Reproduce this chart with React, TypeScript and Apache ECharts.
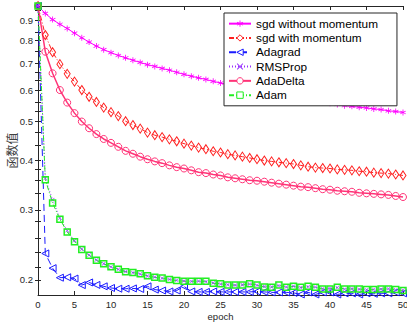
import React, { useEffect, useRef } from "react";
import * as echarts from "echarts";

const epochs: number[] = Array.from({ length: 51 }, (_, i) => i);

const sgdNoMomentum = [
  0.976, 0.935, 0.902, 0.878, 0.857, 0.834, 0.812, 0.792, 0.774, 0.758,
  0.745, 0.733, 0.723, 0.713, 0.704, 0.695, 0.688, 0.68, 0.673, 0.665,
  0.657, 0.65, 0.644, 0.638, 0.631, 0.625, 0.619, 0.613, 0.607, 0.602,
  0.597, 0.592, 0.587, 0.583, 0.578, 0.574, 0.57, 0.566, 0.562, 0.559,
  0.556, 0.552, 0.548, 0.546, 0.543, 0.541, 0.538, 0.536, 0.532, 0.53, 0.527,
];
const sgdMomentum = [
  0.976, 0.825, 0.747, 0.697, 0.659, 0.63, 0.6, 0.577, 0.56, 0.542,
  0.528, 0.516, 0.501, 0.49, 0.48, 0.469, 0.462, 0.457, 0.451, 0.446,
  0.44, 0.435, 0.43, 0.426, 0.421, 0.418, 0.414, 0.411, 0.408, 0.405,
  0.402, 0.399, 0.397, 0.395, 0.393, 0.391, 0.388, 0.385, 0.383, 0.382,
  0.381, 0.379, 0.378, 0.377, 0.375, 0.374, 0.372, 0.371, 0.37, 0.368, 0.366,
];
const adagrad = [
  0.976, 0.233, 0.214, 0.2025, 0.203, 0.2015, 0.194, 0.197, 0.1942, 0.1926,
  0.1908, 0.19, 0.19, 0.1903, 0.1897, 0.1926, 0.189, 0.188, 0.187, 0.188,
  0.1926, 0.187, 0.1865, 0.1865, 0.187, 0.1865, 0.1865, 0.1865, 0.1865, 0.1865,
  0.187, 0.1865, 0.186, 0.186, 0.186, 0.1855, 0.1838, 0.186, 0.1838, 0.186,
  0.186, 0.1838, 0.185, 0.185, 0.1838, 0.185, 0.1845, 0.185, 0.185, 0.186, 0.185,
];
const rmsProp = [
  0.976, 0.36, 0.318, 0.286, 0.266, 0.251, 0.239, 0.231, 0.2245, 0.2195,
  0.2155, 0.2125, 0.2098, 0.2085, 0.2068, 0.2045, 0.2032, 0.2018, 0.2006, 0.1995,
  0.1988, 0.1982, 0.1986, 0.1979, 0.1965, 0.1952, 0.1945, 0.1938, 0.1944, 0.1952,
  0.1938, 0.1925, 0.192, 0.1935, 0.1918, 0.1928, 0.1912, 0.1922, 0.1918, 0.19,
  0.1902, 0.1912, 0.1895, 0.19, 0.1893, 0.1888, 0.1892, 0.1895, 0.1899, 0.1888, 0.1884,
];
const adaDelta = [
  0.976, 0.749, 0.661, 0.6, 0.558, 0.525, 0.5, 0.481, 0.465, 0.452,
  0.442, 0.432, 0.422, 0.415, 0.408, 0.402, 0.397, 0.393, 0.388, 0.384,
  0.381, 0.377, 0.373, 0.371, 0.368, 0.366, 0.362, 0.36, 0.358, 0.356,
  0.355, 0.353, 0.351, 0.349, 0.347, 0.345, 0.343, 0.342, 0.34, 0.338,
  0.337, 0.335, 0.334, 0.333, 0.331, 0.33, 0.329, 0.328, 0.327, 0.325, 0.323,
];
const adam = [
  0.976, 0.357, 0.312, 0.284, 0.264, 0.2495, 0.2385, 0.2305, 0.224, 0.2195,
  0.2157, 0.2127, 0.2096, 0.2086, 0.2071, 0.2048, 0.2029, 0.2022, 0.2003, 0.1992,
  0.1984, 0.1984, 0.1984, 0.1984, 0.196, 0.1956, 0.1941, 0.1941, 0.1941, 0.1956,
  0.1941, 0.1918, 0.1915, 0.194, 0.1915, 0.1926, 0.1915, 0.1926, 0.1915, 0.1897,
  0.1897, 0.1915, 0.1897, 0.1897, 0.1897, 0.189, 0.189, 0.1897, 0.1897, 0.189, 0.188,
];

const yTickLabels = [0.2, 0.3, 0.4, 0.5, 0.6, 0.7, 0.8, 0.9];
const yTickMarks = [
  0.95, 0.9, 0.84, 0.8, 0.75, 0.7, 0.665, 0.635, 0.6, 0.56, 0.53, 0.5, 0.47,
  0.435, 0.4, 0.38, 0.355, 0.33, 0.3, 0.28, 0.255, 0.235, 0.215, 0.2,
];
const yMin = 0.1832;
const yMax = 0.976;

const FONT = "'Liberation Sans', Arial, sans-serif";
const AXIS = "#262626";

const crossPath =
  "path://M0,1 L1,0 L5,4 L9,0 L10,1 L6,5 L10,9 L9,10 L5,6 L1,10 L0,9 L4,5 Z";
const starPath =
  "path://M4.4,0 L5.6,0 L5.6,3.6 L8.7,1.8 L9.3,2.8 L6.2,4.6 L9.3,6.4 L8.7,7.4 L5.6,5.6 L5.6,9.2 L4.4,9.2 L4.4,5.6 L1.3,7.4 L0.7,6.4 L3.8,4.6 L0.7,2.8 L1.3,1.8 L4.4,3.6 Z";

const seriesNames = ["sgd without momentum", "sgd with momentum", "Adagrad", "RMSProp", "AdaDelta", "Adam"];
const seriesColors = ["#ff00ff", "#ff2020", "#1a1aff", "#9933ff", "#ff3377", "#22ee22"];
const seriesFilled = [true, false, false, true, false, false];

export default function App() {
  const ref = useRef<HTMLDivElement>(null);
  useEffect(() => {
    if (!ref.current) return;
    const chart = echarts.init(ref.current, null, { renderer: "svg" });
    const toData = (arr: number[]) => arr.map((v, i) => [epochs[i], Math.log10(v)]);
    const logTicks = yTickMarks.map((v) => Math.log10(v));
    const logLabels = yTickLabels.map((v) => Math.log10(v));

    const mk = (
      idx: number,
      data: number[],
      lineType: any,
      symbol: string,
      symbolSize: any,
      width: number,
      extra: any = {}
    ) => {
      const color = seriesColors[idx];
      const filled = seriesFilled[idx];
      return {
        name: seriesNames[idx],
        type: "line",
        data: toData(data),
        symbol,
        symbolSize,
        showSymbol: true,
        clip: false,
        lineStyle: { color, width, type: lineType },
        itemStyle: {
          color: filled ? color : "rgba(255,255,255,0)",
          borderColor: color,
          borderWidth: filled ? 0 : 1,
        },
        emphasis: { disabled: true },
        ...extra,
      };
    };

    chart.setOption({
      animation: false,
      textStyle: { fontFamily: FONT },
      grid: { left: 38, right: 4, top: 6, bottom: 28, containLabel: false, outerBoundsMode: "none" },
      legend: {
        orient: "vertical",
        left: 224,
        top: 13,
        padding: [4, 19, 4, 4],
        itemWidth: 22,
        itemHeight: 8,
        itemGap: 1,
        backgroundColor: "#ffffff",
        borderColor: AXIS,
        borderWidth: 1,
        borderRadius: 0,
        textStyle: { fontFamily: FONT, fontSize: 11.8, color: "#000", lineHeight: 13.3 },
        data: seriesNames.map((n, i) => ({
          name: n,
          itemStyle: seriesFilled[i]
            ? { color: seriesColors[i] }
            : { color: "#ffffff", borderColor: seriesColors[i], borderWidth: 1 },
        })),
      },
      xAxis: [
        {
          type: "value",
          min: 0,
          max: 50,
          interval: 5,
          name: "epoch",
          nameLocation: "middle",
          nameGap: 16,
          nameMoveOverlap: false,
          nameTextStyle: { fontFamily: FONT, fontSize: 9.5, color: AXIS },
          axisLine: { show: true, lineStyle: { color: AXIS, width: 1 } },
          axisTick: { show: true, inside: true, length: 4, lineStyle: { color: AXIS } },
          axisLabel: { fontFamily: FONT, fontSize: 9.5, color: AXIS, margin: 4 },
          splitLine: { show: false },
        },
        {
          type: "value",
          position: "top",
          min: 0,
          max: 50,
          interval: 5,
          axisLine: { show: true, lineStyle: { color: AXIS, width: 1 } },
          axisTick: { show: true, inside: true, length: 4, lineStyle: { color: AXIS } },
          axisLabel: { show: false },
          splitLine: { show: false },
        },
      ],
      yAxis: [
        {
          type: "value",
          min: Math.log10(yMin),
          max: Math.log10(yMax),
          name: "函数值",
          nameLocation: "middle",
          nameGap: 21,
          nameMoveOverlap: false,
          nameRotate: 90,
          nameTextStyle: {
            fontFamily: "'Noto Sans CJK SC', sans-serif",
            fontSize: 12,
            color: "#404040",
          },
          axisLine: { show: true, lineStyle: { color: AXIS, width: 1 } },
          axisTick: {
            show: true,
            inside: true,
            length: 3,
            customValues: logTicks,
            lineStyle: { color: AXIS },
          },
          axisLabel: {
            fontFamily: FONT,
            fontSize: 9.5,
            color: AXIS,
            margin: 5,
            customValues: logLabels,
            formatter: (v: number) => Math.pow(10, v).toFixed(1),
          },
          splitLine: { show: false },
        },
        {
          type: "value",
          position: "right",
          min: Math.log10(yMin),
          max: Math.log10(yMax),
          axisLine: { show: true, lineStyle: { color: AXIS, width: 1 } },
          axisTick: {
            show: true,
            inside: true,
            length: 3,
            customValues: logTicks,
            lineStyle: { color: AXIS },
          },
          axisLabel: { show: false },
          splitLine: { show: false },
        },
      ],
      series: [
        mk(0, sgdNoMomentum, "solid", starPath, 6, 1),
        mk(1, sgdMomentum, [5, 2, 1, 2], "diamond", [6, 9], 1),
        mk(2, adagrad, [7, 4], "triangle", 7, 1, { symbolRotate: 90 }),
        mk(3, rmsProp, [1, 2], crossPath, 4, 1),
        mk(4, adaDelta, "solid", "circle", 7, 1.5),
        mk(5, adam, [5, 2, 1, 2], "rect", 6, 1, {
          itemStyle: { color: "rgba(255,255,255,0)", borderColor: "#22ee22", borderWidth: 1.5 },
        }),
      ],
    });
    return () => chart.dispose();
  }, []);
  return (
    <div
      ref={ref}
      style={{ position: "absolute", left: 0, top: 0, width: 407, height: 323, background: "#fff" }}
    />
  );
}
